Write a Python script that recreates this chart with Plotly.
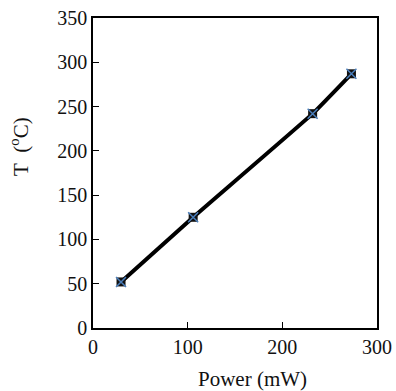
import plotly.graph_objects as go

power_mw = [29.6, 105.8, 232.0, 273.0]
temp_c = [52, 125, 242, 287]
x_ticks = [0, 100, 200, 300]
y_ticks = [0, 50, 100, 150, 200, 250, 300, 350]

W, H = 396, 391
L, R, T, B = 93, 19, 18, 63

fig = go.Figure()
fig.add_trace(go.Scatter(
    x=power_mw, y=temp_c, mode="lines",
    line=dict(color="black", width=4, shape="spline", smoothing=0.3),
    showlegend=False, hoverinfo="skip"))
fig.add_trace(go.Scatter(
    x=power_mw, y=temp_c, mode="markers",
    marker=dict(symbol="square", size=9, color="#111111"),
    showlegend=False))
fig.add_trace(go.Scatter(
    x=power_mw, y=temp_c, mode="markers",
    marker=dict(symbol="x-thin", size=10, line=dict(color="#4a7ebb", width=1.5)),
    showlegend=False))

fam = "Liberation Serif, Times New Roman, serif"
fig.update_layout(
    width=W, height=H,
    margin=dict(l=L, r=R, t=T, b=B, autoexpand=False),
    paper_bgcolor="white", plot_bgcolor="white",
    font=dict(family=fam, size=20, color="#111"),
    xaxis=dict(range=[0, 300], tickvals=x_ticks, ticks="inside", ticklen=6,
               tickcolor="black", showgrid=False, zeroline=False,
               showline=True, linecolor="black", linewidth=1.5, mirror=True,
               automargin=False, tickfont=dict(size=20)),
    yaxis=dict(range=[0, 350], tickvals=y_ticks, ticks="inside", ticklen=6,
               tickcolor="black", showgrid=False, zeroline=False,
               showline=True, linecolor="black", linewidth=1.5, mirror=True,
               automargin=False, tickfont=dict(size=20)),
)
pw, ph = W - L - R, H - T - B
fig.add_annotation(text="Power (mW)", xref="paper", yref="paper",
                   x=(252 - L) / pw, y=-(379 - (H - B)) / ph,
                   showarrow=False, font=dict(size=21, family=fam, color="#111"),
                   xanchor="center", yanchor="middle")
fig.add_annotation(text="T\u00a0\u00a0(<sup>o</sup>C)", xref="paper", yref="paper",
                   x=-(L - 19) / pw, y=(H - B - 147) / ph, textangle=-90,
                   showarrow=False, font=dict(size=21, family=fam, color="#111"),
                   xanchor="center", yanchor="middle")
fig.write_html("out.html", config={"displayModeBar": False},
               post_script="document.body.style.margin='0';document.body.style.overflow='hidden';")
